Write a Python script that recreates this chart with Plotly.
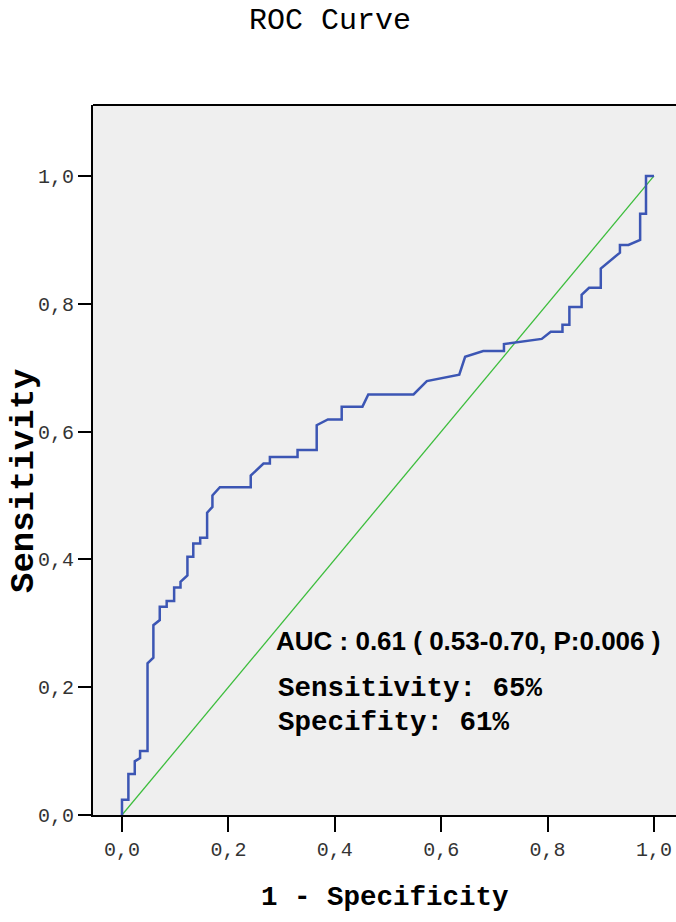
import plotly.graph_objects as go

# ROC curve points (1 - specificity, sensitivity)
fpr = [0, 0, 0.012, 0.012, 0.024, 0.024, 0.034, 0.034, 0.048, 0.048,
       0.059, 0.059, 0.071, 0.071, 0.084, 0.084, 0.098, 0.098, 0.110, 0.110,
       0.123, 0.123, 0.134, 0.134, 0.147, 0.147, 0.160, 0.160, 0.170, 0.170,
       0.184, 0.242, 0.242, 0.266, 0.278, 0.278, 0.330, 0.330, 0.366, 0.366,
       0.387, 0.413, 0.413, 0.452, 0.463, 0.548, 0.573, 0.607, 0.634, 0.645,
       0.679, 0.718, 0.718, 0.789, 0.806, 0.828, 0.828, 0.841, 0.841, 0.864,
       0.864, 0.878, 0.900, 0.900, 0.936, 0.936, 0.952, 0.974, 0.974, 0.985,
       0.985, 1.0]
tpr = [0, 0.024, 0.024, 0.064, 0.064, 0.084, 0.089, 0.100, 0.100, 0.2375,
       0.246, 0.297, 0.305, 0.326, 0.326, 0.335, 0.335, 0.356, 0.356, 0.365,
       0.375, 0.404, 0.404, 0.425, 0.425, 0.434, 0.434, 0.473, 0.482, 0.500,
       0.513, 0.513, 0.531, 0.550, 0.550, 0.560, 0.560, 0.571, 0.571, 0.610,
       0.619, 0.619, 0.639, 0.639, 0.658, 0.658, 0.679, 0.685, 0.689, 0.717,
       0.726, 0.726, 0.737, 0.745, 0.756, 0.756, 0.767, 0.767, 0.795, 0.795,
       0.814, 0.825, 0.825, 0.855, 0.880, 0.892, 0.892, 0.900, 0.941, 0.941,
       1.0, 1.0]

ref_x = [0, 1]
ref_y = [0, 1]

tick_vals = [0, 0.2, 0.4, 0.6, 0.8, 1.0]
tick_text = ["0,0", "0,2", "0,4", "0,6", "0,8", "1,0"]

title_text = "ROC Curve"
x_title = "1 - Specificity"
y_title = "Sensitivity"
auc_text = "AUC : 0.61 ( 0.53-0.70, P:0.006 )"
sens_text = "Sensitivity: 65%"
spec_text = "Specifity: 61%"

W, H = 676, 922
L, R, T, B = 93, 0, 105, 107
pw, ph = W - L - R, H - T - B


def px(x):
    return (x - L) / pw


def py(y):
    return (H - B - y) / ph


mono = "Liberation Mono, Courier New, monospace"

fig = go.Figure()
fig.add_trace(go.Scatter(x=ref_x, y=ref_y, mode="lines",
                         line=dict(color="#3cbd3c", width=1.3),
                         hoverinfo="skip", showlegend=False))
fig.add_trace(go.Scatter(x=fpr, y=tpr, mode="lines",
                         line=dict(color="#3c56b4", width=2.5),
                         showlegend=False))

fig.update_layout(
    width=W, height=H,
    margin=dict(l=L, r=R, t=T, b=B, pad=0),
    paper_bgcolor="white",
    plot_bgcolor="#efefef",
    showlegend=False,
    xaxis=dict(range=[-0.0545, 1.0414], tickvals=tick_vals, ticktext=tick_text,
               showgrid=False, zeroline=False, showline=True,
               linecolor="black", linewidth=2,
               ticks="outside", ticklen=15, tickwidth=2, tickcolor="black",
               tickfont=dict(family=mono, size=20, color="#333333")),
    yaxis=dict(range=[0, 1.111], tickvals=tick_vals, ticktext=tick_text,
               showgrid=False, zeroline=False, showline=True,
               linecolor="black", linewidth=2,
               ticks="outside", ticklen=13, tickwidth=2, tickcolor="black",
               tickfont=dict(family=mono, size=20, color="#333333")),
    shapes=[dict(type="line", xref="paper", yref="paper", x0=0, x1=1.01,
                 y0=1, y1=1, line=dict(color="black", width=2))],
    annotations=[
        dict(text=title_text, xref="paper", yref="paper", x=px(330), y=py(21),
             xanchor="center", yanchor="middle", showarrow=False,
             font=dict(family=mono, size=30, color="black")),
        dict(text="<b>" + x_title + "</b>", xref="paper", yref="paper",
             x=px(385), y=py(897), xanchor="center", yanchor="middle",
             showarrow=False, font=dict(family=mono, size=27.5, color="black")),
        dict(text="<b>" + y_title + "</b>", xref="paper", yref="paper",
             x=px(24), y=py(481), xanchor="center", yanchor="middle",
             textangle=-90, showarrow=False,
             font=dict(family=mono, size=34, color="black")),
        dict(text="<b>" + auc_text + "</b>", xref="paper", yref="paper",
             x=px(274), y=py(641), xanchor="left", yanchor="middle",
             showarrow=False,
             font=dict(family="Liberation Sans, Arial, sans-serif", size=26,
                       color="black")),
        dict(text="<b>" + sens_text + "</b>", xref="paper", yref="paper",
             x=px(276), y=py(688), xanchor="left", yanchor="middle",
             showarrow=False, font=dict(family=mono, size=27.5, color="black")),
        dict(text="<b>" + spec_text + "</b>", xref="paper", yref="paper",
             x=px(276), y=py(722), xanchor="left", yanchor="middle",
             showarrow=False, font=dict(family=mono, size=27.5, color="black")),
    ],
)

fig.write_html(
    "out.html",
    config={"displayModeBar": False},
    post_script="document.body.style.margin='0';"
                "document.body.style.overflow='hidden';",
)
